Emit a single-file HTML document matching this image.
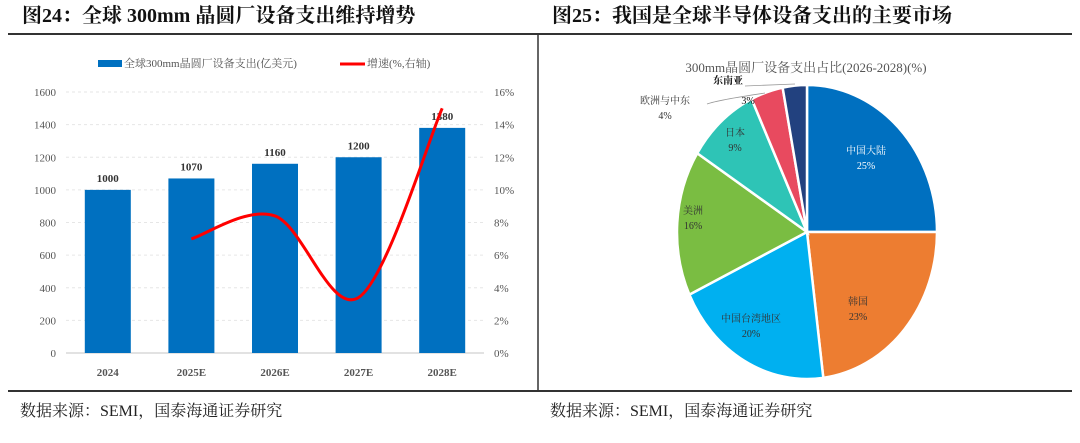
<!DOCTYPE html>
<html><head><meta charset="utf-8">
<style>
body{margin:0;width:1080px;height:438px;background:#fff;overflow:hidden;font-family:"Liberation Serif","Noto Serif CJK SC",serif;}
svg text{font-family:"Liberation Serif","Noto Serif CJK SC",serif;}
</style></head><body>
<svg id="s" width="1080" height="438">
<text x="22" y="22" font-size="20" font-weight="bold" fill="#111">图24：全球 300mm 晶圆厂设备支出维持增势</text>
<text x="552" y="22" font-size="20" font-weight="bold" fill="#111">图25：我国是全球半导体设备支出的主要市场</text>
<line x1="8" y1="34" x2="1072" y2="34" stroke="#333" stroke-width="2"/>
<line x1="8" y1="391" x2="1072" y2="391" stroke="#333" stroke-width="2"/>
<line x1="538" y1="34" x2="538" y2="391" stroke="#333" stroke-width="1.5"/>
<text x="20" y="416" font-size="16" fill="#222">数据来源：SEMI，国泰海通证券研究</text>
<text x="550" y="416" font-size="16" fill="#222">数据来源：SEMI，国泰海通证券研究</text>
<g id="legend">
<rect x="98" y="60" width="24" height="7" fill="#0070c0"/>
<text x="124" y="67" font-size="11" fill="#555">全球300mm晶圆厂设备支出(亿美元)</text>
<line x1="340" y1="64" x2="365" y2="64" stroke="#f00" stroke-width="3"/>
<text x="367" y="67" font-size="11" fill="#555">增速(%,右轴)</text>
</g>
<g id="bar"></g>
<g id="pie"></g>
</svg>
<script>
const years=['2024','2025E','2026E','2027E','2028E'];
const spend=[1000,1070,1160,1200,1380];
const growth=[null,7.0,8.4,3.4,15.0];
const leftTicks=[0,200,400,600,800,1000,1200,1400,1600];
const rightTicks=[0,2,4,6,8,10,12,14,16];
const regions=['中国大陆','韩国','中国台湾地区','美洲','日本','欧洲与中东','东南亚'];
const shares=[25,23,20,16,9,4,3];
const colors=['#0070c0','#ed7d31','#00b0f0','#7abd42','#2ec4b6','#e84a5f','#22417f'];
const NS='http://www.w3.org/2000/svg';
function mk(p,t,a,txt){const e=document.createElementNS(NS,t);for(const k in a)e.setAttribute(k,a[k]);if(txt!=null)e.textContent=txt;p.appendChild(e);return e;}
const g=document.getElementById('bar');
const x0=66,x1=484,yB=353,yT=92;
const y=v=>yB-(v/1600)*(yB-yT);
const y2=v=>yB-(v/16)*(yB-yT);
const step=(x1-x0)/years.length;
const xc=i=>x0+step*(i+0.5);
leftTicks.forEach(t=>{
 const l=mk(g,'line',{x1:x0,x2:x1,y1:y(t),y2:y(t),stroke:t===0?'#d9d9d9':'#e6e6e6','stroke-dasharray':t===0?'':'3,3','stroke-width':t===0?1.5:1});
 
 const tx=mk(g,'text',{x:56,y:y(t)+4,'text-anchor':'end','font-size':11,fill:'#555'},t);
 
});
rightTicks.forEach(t=>{
 const tx=mk(g,'text',{x:494,y:y2(t)+4,'font-size':11,fill:'#555'},t+'%');
 
});
years.forEach((yr,i)=>{
 const r=mk(g,'rect',{x:xc(i)-23,y:y(spend[i]),width:46,height:yB-y(spend[i]),fill:'#0070c0'});
 
 const v=mk(g,'text',{x:xc(i),y:y(spend[i])-8,'text-anchor':'middle','font-size':11,'font-weight':'bold',fill:'#333'},spend[i]);
 
 const l=mk(g,'text',{x:xc(i),y:376,'text-anchor':'middle','font-size':11,'font-weight':'bold',fill:'#555'},yr);
 
});
const pts=[];growth.forEach((v,i)=>{if(v!=null)pts.push([xc(i),y2(v)]);});
let d='M'+pts[0][0]+','+pts[0][1];
for(let i=0;i<pts.length-1;i++){
 const p0=pts[Math.max(i-1,0)],p1=pts[i],p2=pts[i+1],p3=pts[Math.min(i+2,pts.length-1)];
 const k=1/6;
 d+=' C'+(p1[0]+(p2[0]-p0[0])*k)+','+(p1[1]+(p2[1]-p0[1])*k)+' '+(p2[0]-(p3[0]-p1[0])*k)+','+(p2[1]-(p3[1]-p1[1])*k)+' '+p2[0]+','+p2[1];
}
const ln=mk(g,'path',{d:d,fill:'none',stroke:'#f00','stroke-width':3});


// pie (slightly squashed horizontally, like the reference)
const p=document.getElementById('pie');
const cx=807,cy=232,RX=130,RY=147;
const pt=document.createElementNS(NS,'text');

pt.setAttribute('x',806);pt.setAttribute('y',72);pt.setAttribute('text-anchor','middle');pt.setAttribute('font-size',13);pt.setAttribute('fill','#555');
pt.textContent='300mm晶圆厂设备支出占比(2026-2028)(%)';p.appendChild(pt);
const total=shares.reduce((a,b)=>a+b,0);
let a=0;
const lab=[[866,154,'#fff'],[858,305,'#333'],[751,322,'#333'],[693,214,'#333'],[735,136,'#333'],[665,104,'#333'],[728,84,'#111']];
shares.forEach((s,i)=>{
 const a0=a/total*2*Math.PI,a1=(a+s)/total*2*Math.PI;a+=s;
 const P=t=>[cx+RX*Math.sin(t),cy-RY*Math.cos(t)];
 const [sx,sy]=P(a0),[ex,ey]=P(a1);
 const sl=mk(p,'path',{d:`M${cx},${cy} L${sx},${sy} A${RX},${RY} 0 ${a1-a0>Math.PI?1:0} 1 ${ex},${ey} Z`,fill:colors[i],stroke:'#fff','stroke-width':2.5});
 
 const [lx,ly,c]=lab[i];
 const t1=mk(p,'text',{x:lx,y:ly,'text-anchor':'middle','font-size':10,fill:c,'font-weight':i===6?'bold':'normal'},regions[i]);
 
 const t2=mk(p,'text',{x:i===6?748:lx,y:i===6?104:ly+15,'text-anchor':'middle','font-size':10,fill:c},shares[i]+'%');
 
});
const l1=mk(p,'path',{d:'M707,104 Q718,100 765,93',fill:'none',stroke:'#999','stroke-width':0.8});

const l2=mk(p,'path',{d:'M745,86 L795,84',fill:'none',stroke:'#999','stroke-width':0.8});

</script>
</body></html>
